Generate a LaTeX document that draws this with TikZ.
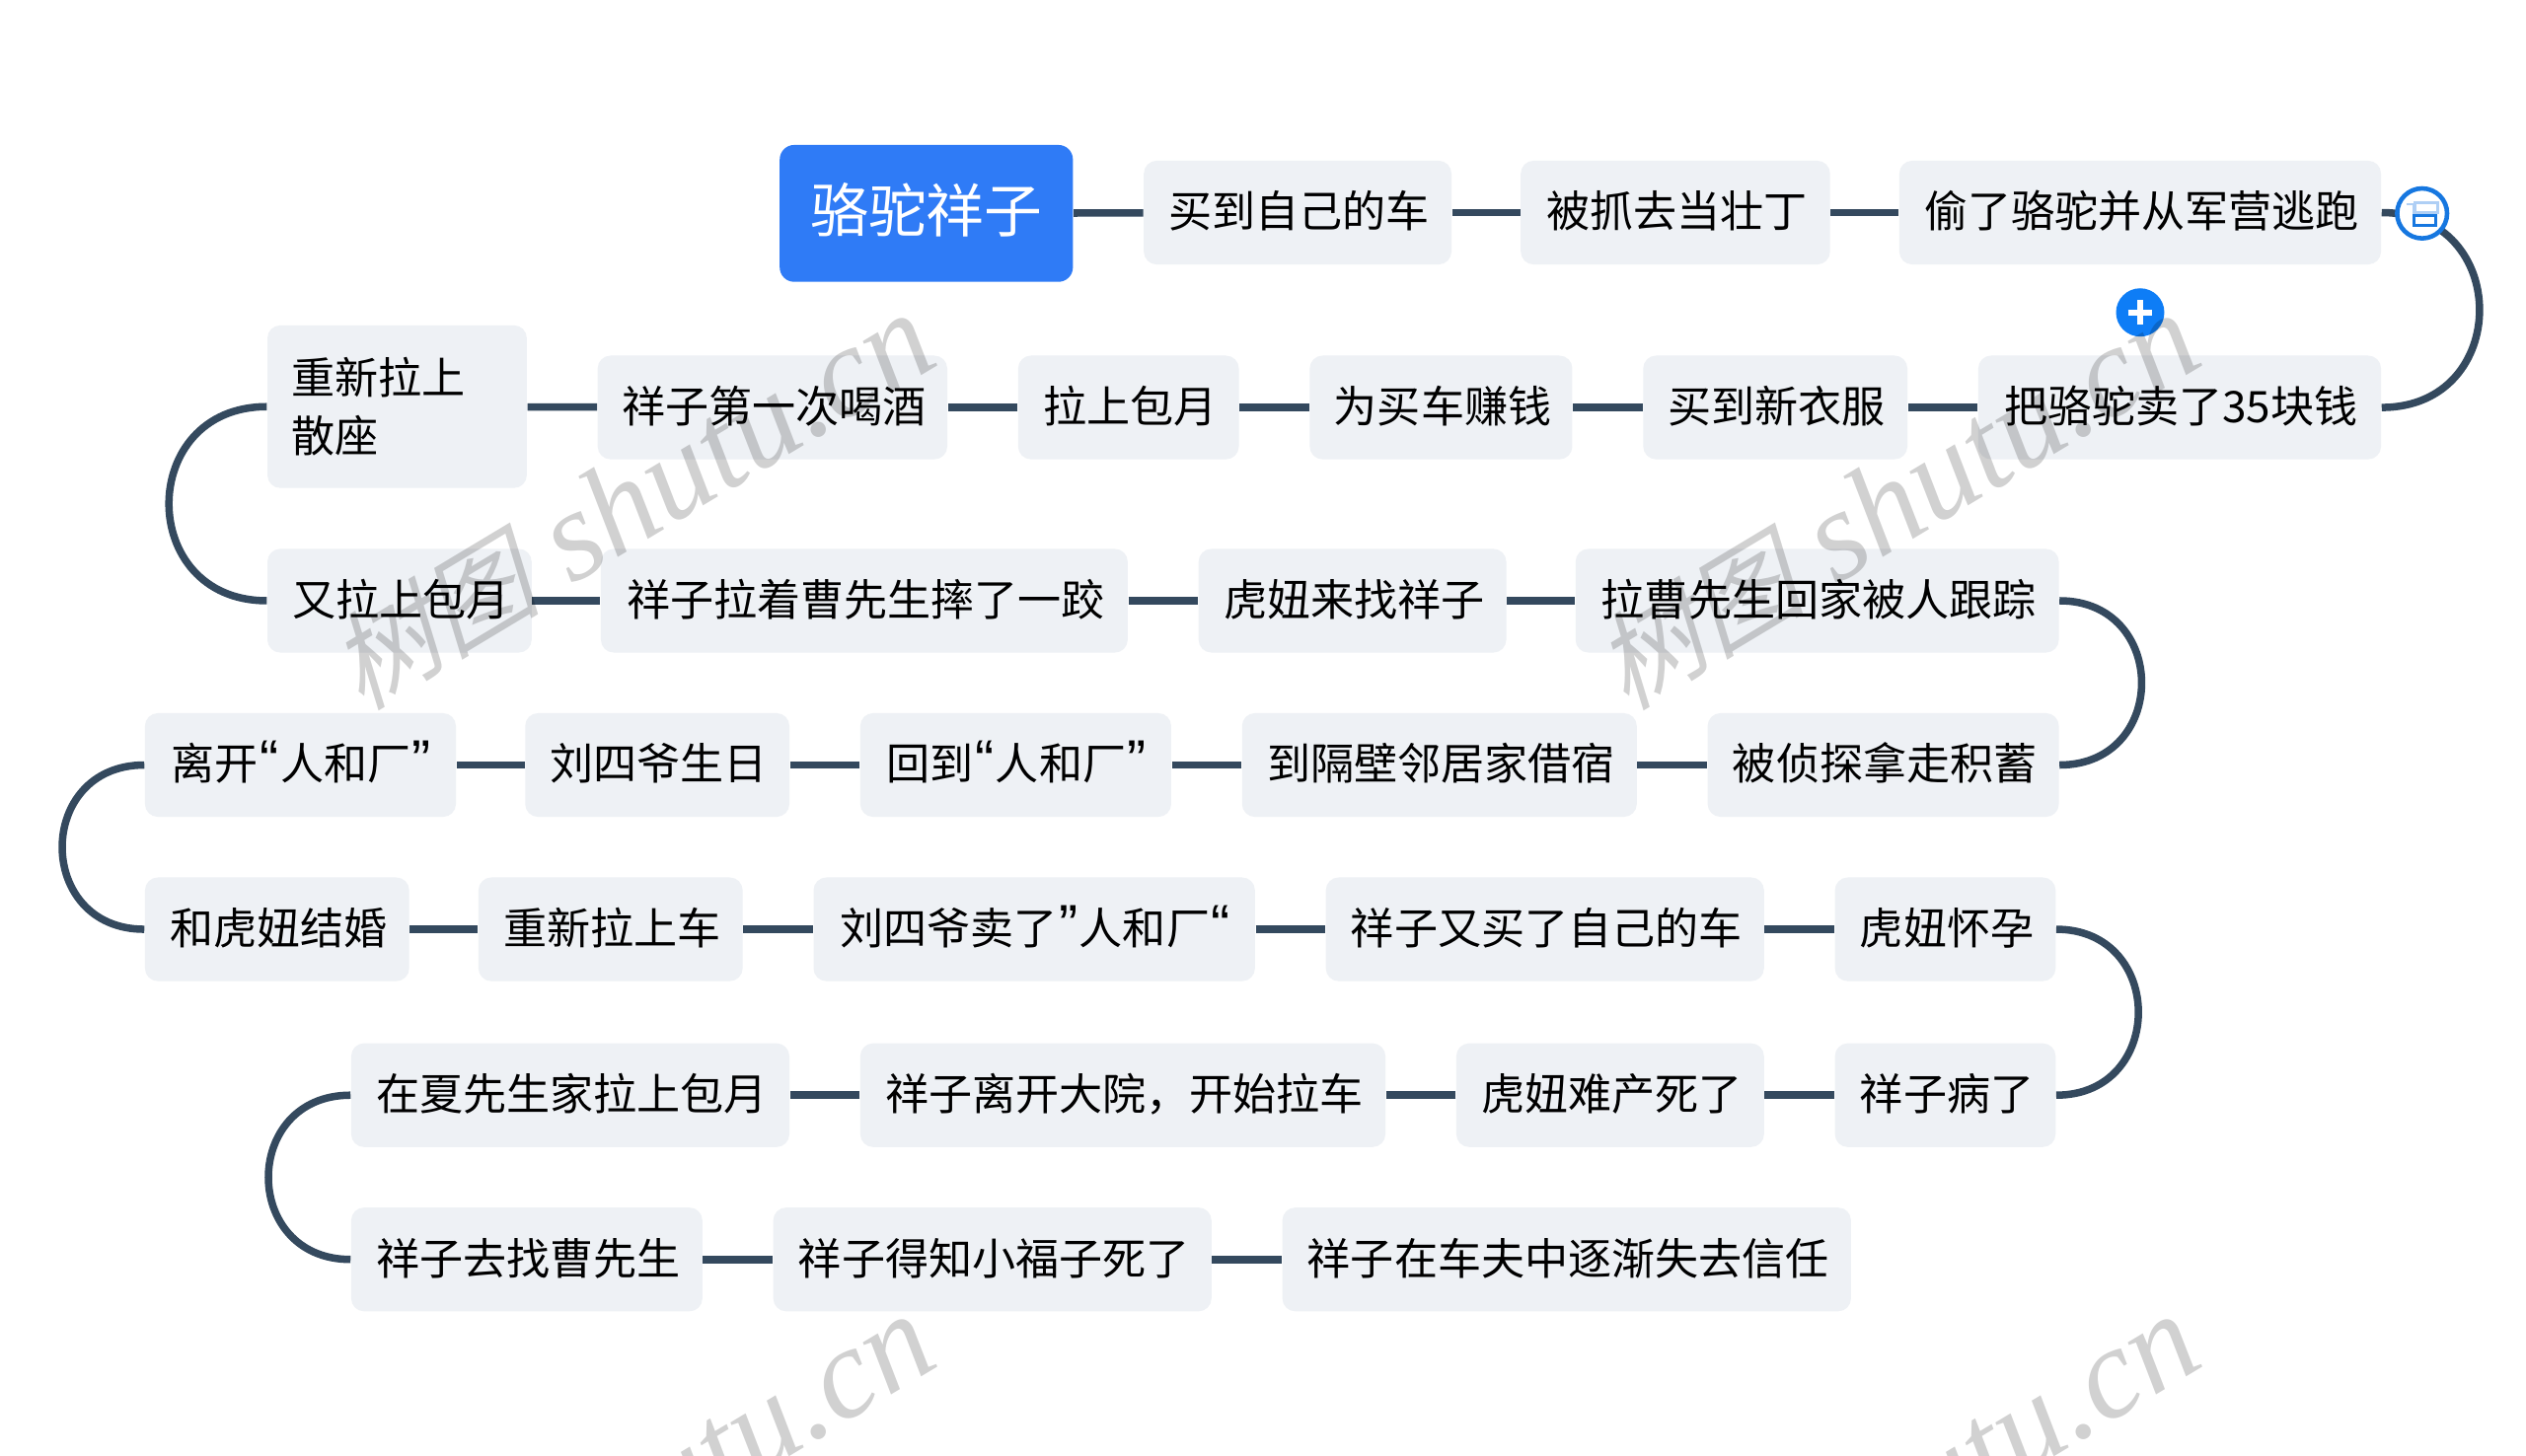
\documentclass[tikz,border=0pt]{standalone}
\usepackage{fontspec}
\setmainfont{Noto Sans CJK SC}
\newfontfamily\wmcjk[FakeSlant=0.25]{Noto Sans CJK SC}
\newfontfamily\wmlat{Liberation Serif}
\newfontfamily\qfont[Scale=1.3]{Liberation Sans}
\newcommand\ql{\makebox[0.5em][c]{\qfont “}}
\newcommand\qr{\makebox[0.5em][c]{\qfont ”}}
\definecolor{linec}{HTML}{34495E}
\definecolor{boxc}{HTML}{EEF1F5}
\definecolor{rootc}{HTML}{2F7BF6}
\definecolor{iconc}{HTML}{1677E0}
\definecolor{iconl}{HTML}{AFCFF5}
\definecolor{plusc}{HTML}{0E7DF6}
\tikzset{
  tb/.style={fill=boxc,rounded corners=4pt,inner sep=0pt,font=\fontsize{13.5pt}{18pt}\selectfont,text=black,minimum height=32.2pt,text height=1.0em,text depth=0.06em},
  rootb/.style={fill=rootc,rounded corners=4.5pt,inner sep=0pt,font=\fontsize{18pt}{22pt}\selectfont,text=white,text height=1.2em,text depth=0.04em},
  conn/.style={draw=linec,line width=2.3pt},
  wm/.style={text=black,text opacity=0.18,rotate=31,inner sep=0pt,font=\wmlat\itshape\fontsize{40pt}{42pt}\selectfont},
}
\newcommand\bx[5]{\node[tb,minimum width={(#3-#2)*0.5pt}] (#1) at ({(#2+#3)/2},#4) {\hspace*{1pt}#5};}
\newcommand\wmark[3]{\node[wm] (#1) at (#2,#3) {{\wmcjk\fontsize{33pt}{42pt}\selectfont 树图} shutu.cn};}
\begin{document}
\begin{tikzpicture}[x=0.5pt,y=-0.5pt]
\useasboundingbox (0,0) rectangle (1568,904);
\fill[white] (0,0) rectangle (1568,904);
% row 1
\node[rootb,minimum width=91pt,minimum height=42.5pt] (r) at (575,132.5) {骆驼祥子};
\bx{a1}{710}{901}{132}{买到自己的车}
\bx{a2}{944}{1136}{132}{被抓去当壮丁}
\bx{a3}{1179}{1478}{132}{偷了骆驼并从军营逃跑}
% row 2
\bx{b6}{1228}{1478}{253}{把骆驼卖了35块钱}
\bx{b5}{1020}{1184}{253}{买到新衣服}
\bx{b4}{813}{976}{253}{为买车赚钱}
\bx{b3}{632}{769}{253}{拉上包月}
\bx{b2}{371}{588}{253}{祥子第一次喝酒}
\node[tb,minimum height=50.5pt,text width=65.5pt,inner xsep=7.5pt,align=left,text height=,text depth=] (b1) at (246.5,252.5) {重新拉上\\散座};
% row 3
\bx{c1}{166}{330}{373}{又拉上包月}
\bx{c2}{373}{700}{373}{祥子拉着曹先生摔了一跤}
\bx{c3}{744}{935}{373}{虎妞来找祥子}
\bx{c4}{978}{1278}{373}{拉曹先生回家被人跟踪}
% row 4
\bx{d5}{1060}{1278}{475}{被侦探拿走积蓄}
\bx{d4}{771}{1016}{475}{到隔壁邻居家借宿}
\bx{d3}{534}{727}{475}{回到\ql 人和厂\qr}
\bx{d2}{326}{490}{475}{刘四爷生日}
\bx{d1}{90}{283}{475}{离开\ql 人和厂\qr}
% row 5
\bx{e1}{90}{254}{577}{和虎妞结婚}
\bx{e2}{297}{461}{577}{重新拉上车}
\bx{e3}{505}{779}{577}{刘四爷卖了\qr 人和厂\ql}
\bx{e4}{823}{1095}{577}{祥子又买了自己的车}
\bx{e5}{1139}{1276}{577}{虎妞怀孕}
% row 6
\bx{f4}{1139}{1276}{680}{祥子病了}
\bx{f3}{904}{1095}{680}{虎妞难产死了}
\bx{f2}{534}{860}{680}{祥子离开大院，开始拉车}
\bx{f1}{218}{490}{680}{在夏先生家拉上包月}
% row 7
\bx{g1}{218}{436}{782}{祥子去找曹先生}
\bx{g2}{480}{752}{782}{祥子得知小福子死了}
\bx{g3}{796}{1149}{782}{祥子在车夫中逐渐失去信任}
% straight connectors
\foreach \p/\q in {r/a1,a1/a2,a2/a3,b6/b5,b5/b4,b4/b3,b3/b2,b2/b1,c1/c2,c2/c3,c3/c4,d5/d4,d4/d3,d3/d2,d2/d1,e1/e2,e2/e3,e3/e4,e4/e5,f4/f3,f3/f2,f2/f1,g1/g2,g2/g3}
  \draw[conn] (\p) -- (\q);
% turn connectors
\draw[conn] (a3.east) .. controls +(81,0) and +(81,0) .. (b6.east);
\draw[conn] (b1.west) .. controls +(-81,0) and +(-81,0) .. (c1.west);
\draw[conn] (c4.east) .. controls +(68,0) and +(68,0) .. (d5.east);
\draw[conn] (d1.west) .. controls +(-68,0) and +(-68,0) .. (e1.west);
\draw[conn] (e5.east) .. controls +(68,0) and +(68,0) .. (f4.east);
\draw[conn] (f1.west) .. controls +(-68,0) and +(-68,0) .. (g1.west);
% collapse icon
\node[circle,fill=white,draw=iconc,line width=1.4pt,minimum size=15.5pt,inner sep=0pt] (ico) at (1503.5,132.5) {};
\draw[iconl,line width=0.9pt] ([shift={(-9.8,-5.7)}]ico.center) -- ([shift={(-5.2,-5.7)}]ico.center) -- ([shift={(-5.2,6)}]ico.center);
\draw[iconl,line width=0.9pt] ([shift={(-4.7,-6.7)}]ico.center) rectangle ([shift={(9.6,-0.6)}]ico.center);
\draw[iconc,line width=0.9pt] ([shift={(-5.3,1.6)}]ico.center) rectangle ([shift={(8.6,7.5)}]ico.center);
% add badge
\node[circle,fill=plusc,minimum size=15pt,inner sep=0pt] (plus) at (1328.5,194) {};
\draw[white,line width=1.7pt] ([xshift=-3.8pt]plus.center) -- ([xshift=3.8pt]plus.center);
\draw[white,line width=1.7pt] ([yshift=-3.8pt]plus.center) -- ([yshift=3.8pt]plus.center);
% watermarks
\begin{scope}
\clip (0,0) rectangle (1568,904);
\wmark{w1}{392}{312}
\wmark{w2}{1177}{312}
\wmark{w3}{392}{934}
\wmark{w4}{1177}{934}
\end{scope}
\end{tikzpicture}
\end{document}
